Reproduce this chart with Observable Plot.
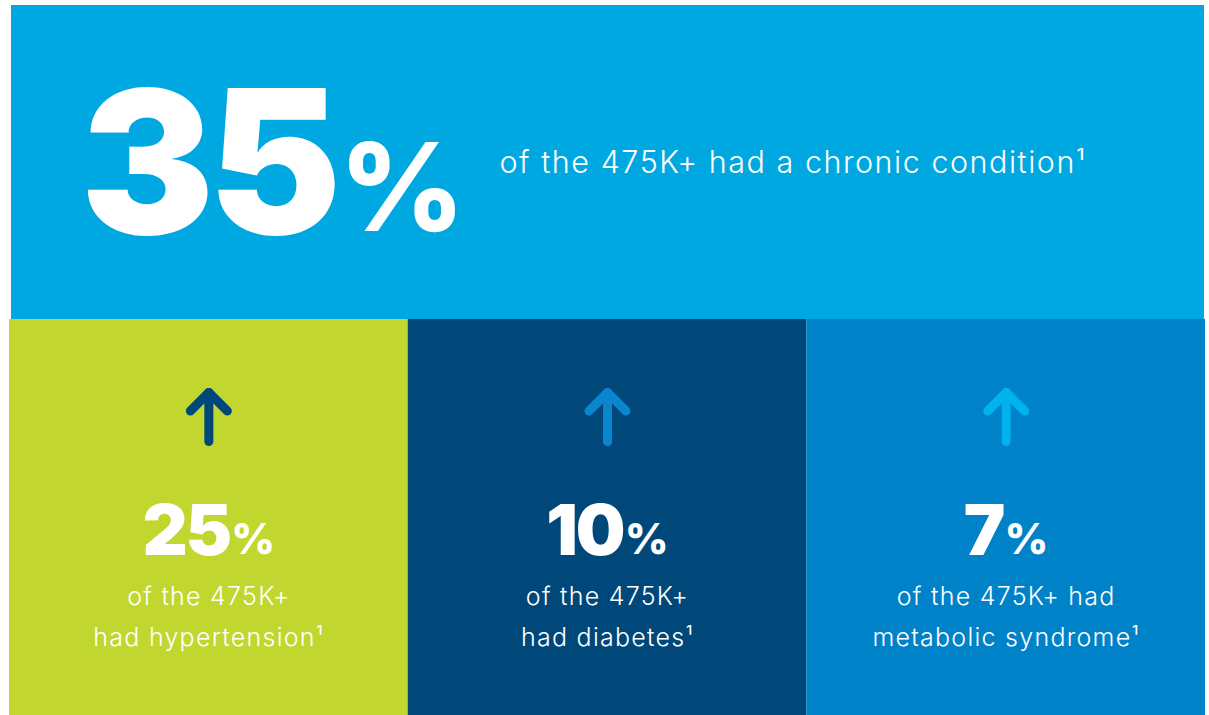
<!DOCTYPE html>
<html>
<head>
<meta charset="utf-8">
<script src="https://cdn.jsdelivr.net/npm/d3@7"></script>
<script src="https://cdn.jsdelivr.net/npm/@observablehq/plot@0.6"></script>
<style>
  html, body { margin: 0; padding: 0; background: #ffffff; }
  #chart svg { display: block; }
</style>
</head>
<body>
<div id="chart"></div>
<script>
// ---- data ----
const headlineValue = 35;
const headlineText = "of the 475K+ had a chronic condition¹";
const headlineColor = "#00A8E1";

const categories = ["hypertension", "diabetes", "metabolic syndrome"];
const values = [25, 10, 7];
const line1 = ["of the 475K+", "of the 475K+", "of the 475K+ had"];
const line2 = ["had hypertension¹", "had diabetes¹", "metabolic syndrome¹"];
const tileColors = ["#C1D72F", "#00487A", "#0082C8"];
const arrowColors = ["#00487A", "#0A86D0", "#00B2EE"];

// ---- layout (pixels) ----
const W = 1209, H = 715;
const xLeft = 9, xRight = 1205;
const topY1 = 5, topY2 = 319, tileY2 = 715;
const unitPx = (xRight - xLeft) / categories.length;
const arrowTip = 392, arrowBase = 441, wingPx = 18.5;

const tiles = categories.map((c, i) => ({
  cat: c, i, value: values[i], l1: line1[i], l2: line2[i],
  fill: tileColors[i], arrow: arrowColors[i]
}));
const heads = tiles.flatMap(t => [
  {cat: t.cat, arrow: t.arrow, x: t.i + 0.5 - wingPx / unitPx, y: arrowTip + wingPx},
  {cat: t.cat, arrow: t.arrow, x: t.i + 0.5, y: arrowTip},
  {cat: t.cat, arrow: t.arrow, x: t.i + 0.5 + wingPx / unitPx, y: arrowTip + wingPx}
]);

const FONT = "Inter, 'Open Sans', sans-serif";

const chart = Plot.plot({
  width: W, height: H,
  margin: 0,
  x: {domain: [0, categories.length], range: [xLeft, xRight], axis: null},
  y: {domain: [0, H], range: [0, H], axis: null},
  color: {type: "identity"},
  style: {fontFamily: FONT, background: "#ffffff"},
  marks: [
    Plot.rect([headlineValue], {x1: 0, x2: categories.length, y1: topY1, y2: topY2,
      insetLeft: 2, insetRight: 1, fill: headlineColor}),
    Plot.rect(tiles, {x1: d => d.i, x2: d => d.i + 1, y1: topY2, y2: tileY2, fill: d => d.fill}),
    Plot.text([headlineValue], {x: 0, y: 233, text: d => d + "%", textAnchor: "start",
      lineAnchor: "bottom", dx: 71, fontSize: 200, fontWeight: 900, fill: "white",
      fontFamily: FONT}),
    Plot.text([headlineText], {x: 0, y: 172, text: d => d, textAnchor: "start",
      lineAnchor: "bottom", dx: 490, fontSize: 30.5, fontWeight: 300, fill: "white",
      fontFamily: FONT}),
    Plot.link(tiles, {x1: d => d.i + 0.5, x2: d => d.i + 0.5, y1: arrowBase, y2: arrowTip,
      stroke: d => d.arrow, strokeWidth: 9, strokeLinecap: "round"}),
    Plot.line(heads, {x: "x", y: "y", z: "cat", stroke: d => d.arrow, strokeWidth: 9,
      strokeLinecap: "round", strokeLinejoin: "round"}),
    Plot.text(tiles, {x: d => d.i + 0.5, y: 554, text: d => d.value + "%", lineAnchor: "bottom",
      fontSize: 70, fontWeight: 900, fill: "white", fontFamily: FONT}),
    Plot.text(tiles, {x: d => d.i + 0.5, y: 604, text: "l1", lineAnchor: "bottom",
      fontSize: 25, fontWeight: 300, fill: "white", fontFamily: FONT}),
    Plot.text(tiles, {x: d => d.i + 0.5, y: 645, text: "l2", lineAnchor: "bottom",
      fontSize: 25, fontWeight: 300, fill: "white", fontFamily: FONT})
  ]
});

const ns = "http://www.w3.org/2000/svg";
d3.select(chart).selectAll("text").each(function () {
  const t = this.textContent;
  if (/^\d+%$/.test(t)) {
    // big number with a smaller, lighter percent sign
    const num = t.replace("%", "");
    while (this.firstChild) this.removeChild(this.firstChild);
    const a = document.createElementNS(ns, "tspan");
    a.textContent = num;
    a.setAttribute("letter-spacing", "-0.03em");
    const b = document.createElementNS(ns, "tspan");
    b.textContent = "%";
    b.setAttribute("font-size", "0.61em");
    b.setAttribute("font-weight", "800");
    b.setAttribute("dx", "0.03em");
    b.setAttribute("dy", "-0.02em");
    this.appendChild(a);
    this.appendChild(b);
  } else if (/[a-z]/.test(t)) {
    this.setAttribute("letter-spacing", "0.05em");
  }
});

document.getElementById("chart").appendChild(chart);
</script>
</body>
</html>
